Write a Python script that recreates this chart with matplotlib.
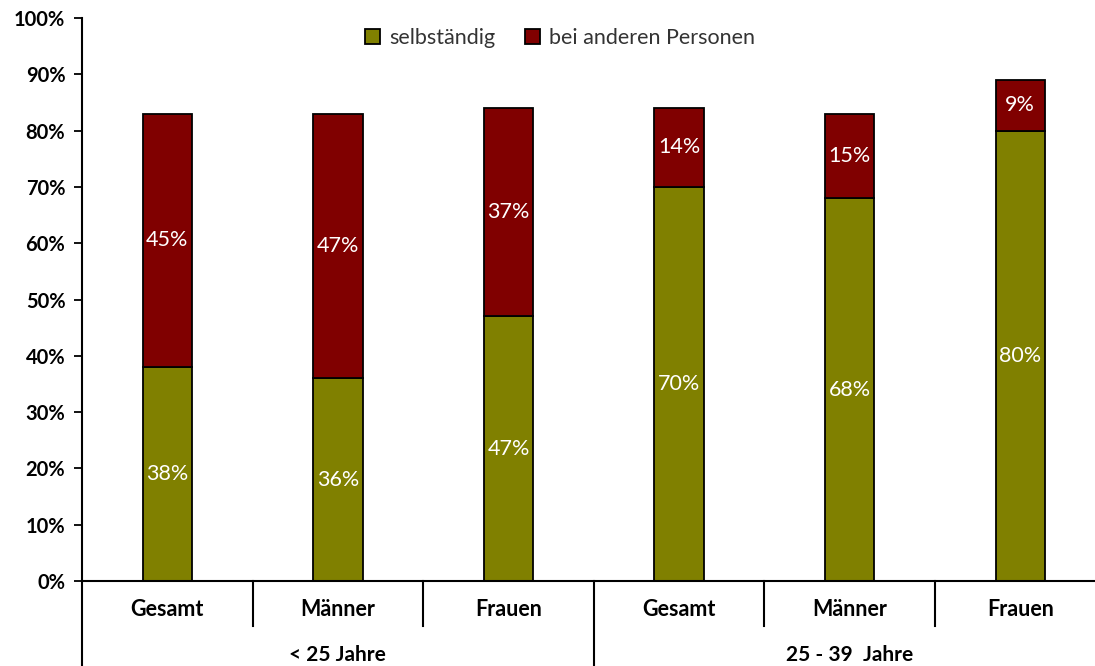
import numpy as np
import matplotlib
matplotlib.use("Agg")
from matplotlib import pyplot as plt
from matplotlib.patches import Patch

plt.rcParams["font.family"] = ["Lato", "DejaVu Sans"]

# Data
categories = ["Gesamt", "Männer", "Frauen", "Gesamt", "Männer", "Frauen"]
groups = ["< 25 Jahre", "25 - 39  Jahre"]
selbstaendig = [38, 36, 47, 70, 68, 80]
bei_anderen = [45, 47, 37, 14, 15, 9]
series_names = ["selbständig", "bei anderen Personen"]

c_selb = "#808000"
c_andere = "#800000"

fig = plt.figure(figsize=(10.95, 6.66), dpi=100)
ax = fig.add_axes([82 / 1095, 85 / 666, 1023.6 / 1095, 563 / 666])

x = np.arange(len(categories))
w = 0.29
b1 = ax.bar(x, selbstaendig, w, color=c_selb, edgecolor="black", linewidth=1.3)
b2 = ax.bar(x, bei_anderen, w, bottom=selbstaendig, color=c_andere,
            edgecolor="black", linewidth=1.3)

# white data labels
for xi, s, a in zip(x, selbstaendig, bei_anderen):
    ax.text(xi, s / 2, f"{s}%", ha="center", va="center", color="white", fontsize=15.5)
    ax.text(xi, s + a / 2, f"{a}%", ha="center", va="center", color="white", fontsize=15.5)

ax.set_xlim(-0.5, len(categories) - 0.5)
ax.set_ylim(0, 100)
ax.set_yticks(np.arange(0, 101, 10))
ax.set_yticklabels([f"{v}%" for v in range(0, 101, 10)], fontsize=14.5, fontweight="bold")
ax.tick_params(axis="y", direction="out", length=6, width=1.3, pad=6)
ax.set_xticks([])
for s in ["top", "right"]:
    ax.spines[s].set_visible(False)
for s in ["left", "bottom"]:
    ax.spines[s].set_linewidth(1.5)

# hierarchical x axis
trans = ax.get_xaxis_transform()
for xi, lab in zip(x, categories):
    ax.text(xi, -0.0515, lab, transform=trans, ha="center", va="center",
            fontsize=15.5, fontweight="bold")
for i in range(1, len(categories)):
    if i % 3 == 0:
        continue
    ax.plot([i - 0.5, i - 0.5], [0, -0.08], transform=trans, color="black",
            lw=1.5, clip_on=False)
for gx in [-0.5, 2.5, 5.5]:
    ax.plot([gx, gx], [0, -0.16], transform=trans, color="black",
            lw=1.5, clip_on=False)
for gi, g in enumerate(groups):
    ax.text(gi * 3 + 1, -0.131, g, transform=trans, ha="center", va="center",
            fontsize=15, fontweight="bold")

handles = [Patch(facecolor=c_selb, edgecolor="black", linewidth=1.3),
           Patch(facecolor=c_andere, edgecolor="black", linewidth=1.3)]
leg = fig.legend(handles, series_names, loc="center", bbox_to_anchor=(560 / 1095, 1 - 38 / 666),
                 ncol=2, frameon=False, fontsize=15.5, handlelength=0.7, handleheight=0.7,
                 handletextpad=0.4, columnspacing=1.4)
for t in leg.get_texts():
    t.set_color("#333333")

plt.savefig("out.png", dpi=100)
